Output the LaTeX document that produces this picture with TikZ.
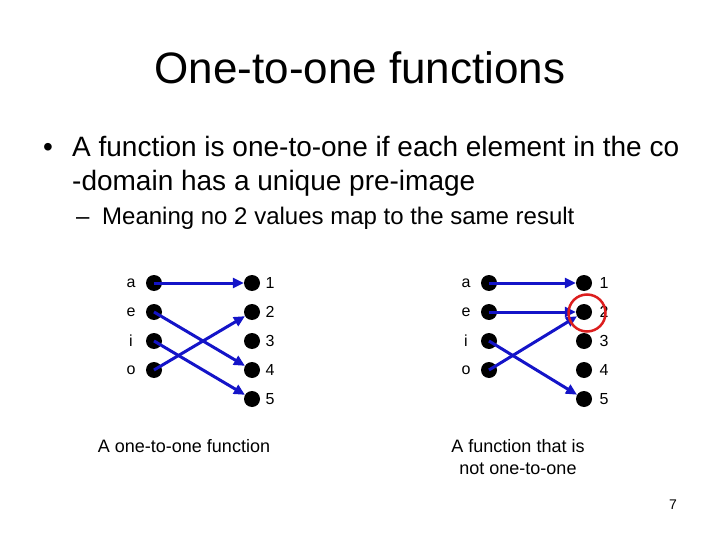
\documentclass[tikz,border=0pt]{standalone}
\usepackage{fontspec}
\setmainfont{Liberation Sans}
\usetikzlibrary{arrows.meta}
\definecolor{arrowblue}{RGB}{20,20,200}
\definecolor{markred}{RGB}{220,30,30}
\tikzset{
  dot/.style={circle,fill=black,minimum size=16pt,inner sep=0pt},
  lbl/.style={font=\fontsize{16}{19}\selectfont,inner sep=0pt,anchor=center},
  maparrow/.style={draw=arrowblue,line width=3pt,-{Triangle[length=11pt,width=10pt]}},
  txt/.style={inner sep=0pt,anchor=base west},
}
\begin{document}
\begin{tikzpicture}[x=1pt,y=-1pt]
\useasboundingbox (0,0) rectangle (720,540);
\node[inner sep=0pt,anchor=base,font=\fontsize{44}{52}\selectfont] (title) at (360,84) {One-to-one functions};
\node[txt,font=\fontsize{28}{34}\selectfont] (bul) at (43,157) {•};
\node[txt,font=\fontsize{28}{34}\selectfont] (l1) at (72,157) {A function is one-to-one if each element in the co};
\node[txt,font=\fontsize{28}{34}\selectfont] (l2) at (72,191) {-domain has a unique pre-image};
\node[txt,font=\fontsize{24}{29}\selectfont] (dash) at (76,225) {–};
\node[txt,font=\fontsize{24}{29}\selectfont] (l3) at (102,225) {Meaning no 2 values map to the same result};
% left diagram
\foreach \n/\t/\y in {a/a/283,e/e/312,i/i/341,o/o/370}{
  \node[dot] (L\n) at (154,\y) {};
  \node[lbl] (Lt\n) at (131,\y) {\t};
}
\foreach \n/\y in {1/283,2/312,3/341,4/370,5/399}{
  \node[dot] (LR\n) at (252,\y) {};
  \node[lbl] (LRt\n) at (270,\y) {\n};
}
\draw[maparrow] (La.center) -- (LR1);
\draw[maparrow] (Le.center) -- (LR4);
\draw[maparrow] (Li.center) -- (LR5);
\draw[maparrow] (Lo.center) -- (LR2);
% right diagram
\foreach \n/\t/\y in {a/a/283,e/e/312,i/i/341,o/o/370}{
  \node[dot] (R\n) at (489,\y) {};
  \node[lbl] (Rt\n) at (466,\y) {\t};
}
\foreach \n/\y in {1/283,2/312,3/341,4/370,5/399}{
  \node[dot] (RR\n) at (584,\y) {};
  \node[lbl] (RRt\n) at (604,\y) {\n};
}
\draw[maparrow] (Ra.center) -- (RR1);
\draw[maparrow] (Re.center) -- (RR2);
\draw[maparrow] (Ri.center) -- (RR5);
\draw[maparrow] (Ro.center) -- (RR2);
\node[circle,draw=markred,line width=2.5pt,minimum size=37pt,inner sep=0pt] (mark) at (587,313) {};
% captions
\node[inner sep=0pt,anchor=base,font=\fontsize{18}{21}\selectfont] (capL) at (184,452) {A one-to-one function};
\node[inner sep=0pt,anchor=base,font=\fontsize{18}{21}\selectfont] (capR1) at (518,452) {A function that is};
\node[inner sep=0pt,anchor=base,font=\fontsize{18}{21}\selectfont] (capR2) at (518,474) {not one-to-one};
\node[inner sep=0pt,anchor=base,font=\fontsize{14}{17}\selectfont] (page) at (673,509) {7};
\end{tikzpicture}
\end{document}
